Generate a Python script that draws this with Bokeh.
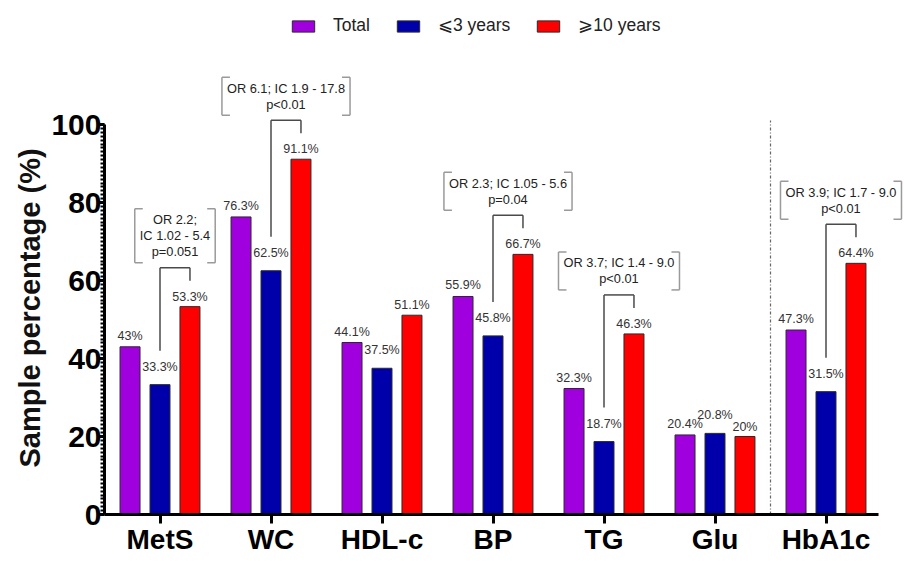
from bokeh.plotting import figure
from bokeh.models import (ColumnDataSource, Range1d, FixedTicker, SingleIntervalTicker,
                          Legend, LegendItem, Title)
from bokeh.transform import dodge
from bokeh.embed import file_html
from bokeh.resources import INLINE
from bokeh.core.properties import value

# ---------------- data ----------------
categories = ["MetS", "WC", "HDL-c", "BP", "TG", "Glu", "HbA1c"]
total = [43, 76.3, 44.1, 55.9, 32.3, 20.4, 47.3]
le3 = [33.3, 62.5, 37.5, 45.8, 18.7, 20.8, 31.5]
ge10 = [53.3, 91.1, 51.1, 66.7, 46.3, 20, 64.4]
series_names = ["Total", "\u2a7d3 years", "\u2a7e10 years"]
y_ticks = [0, 20, 40, 60, 80, 100]
y_label = "Sample percentage (%)"

ann_groups = ["MetS", "WC", "BP", "TG", "HbA1c"]
ann_texts = [
    ["OR 2.2;", "IC 1.02 - 5.4", "p=0.051"],
    ["OR 6.1; IC 1.9 - 17.8", "p<0.01"],
    ["OR 2.3; IC 1.05 - 5.6", "p=0.04"],
    ["OR 3.7; IC 1.4 - 9.0", "p<0.01"],
    ["OR 3.9; IC 1.7 - 9.0", "p<0.01"],
]
separator_before = "HbA1c"

# ---------------- style ----------------
FONT = "Liberation Sans"
COLORS = ["#A100DE", "#0000AA", "#FF0000"]
OFFSETS = [-0.27, 0.0, 0.27]
LABEL_LIFT = [11, 18, 10]   # px above bar top, per series
BAR_W = 0.18
FIG_W, FIG_H = 904, 561
BORDER_L, BORDER_B, BORDER_T = 104, 47, 0
PX_X = 111.0        # px per category
PX_Y = 3.9          # px per percent
X0 = -0.5
X1 = X0 + (FIG_W - BORDER_L) / PX_X
FRAME_H = FIG_H - BORDER_B - BORDER_T
Y1 = FRAME_H / PX_Y

p = figure(width=FIG_W, height=FIG_H, output_backend="svg", toolbar_location=None,
           x_range=Range1d(X0, X1), y_range=Range1d(0, Y1),
           min_border_left=BORDER_L, min_border_right=0, min_border_top=BORDER_T,
           min_border_bottom=BORDER_B)
p.outline_line_color = None
p.grid.visible = False
p.background_fill_color = "white"
p.border_fill_color = "white"

idx = list(range(len(categories)))
src = ColumnDataSource(dict(
    x=idx, total=total, le3=le3, ge10=ge10,
    total_lbl=[f"{v:g}%" for v in total],
    le3_lbl=[f"{v:g}%" for v in le3],
    ge10_lbl=[f"{v:g}%" for v in ge10],
))

renderers = []
for key, col, off, lift in zip(["total", "le3", "ge10"], COLORS, OFFSETS, LABEL_LIFT):
    r = p.vbar(x=dodge("x", off, range=p.x_range), top=key, width=BAR_W, source=src,
               fill_color=col, line_color="#2a2a2a", line_width=1)
    renderers.append(r)
    p.text(x=dodge("x", off, range=p.x_range), y=key, text=key + "_lbl", source=src,
           text_align="center", text_baseline="middle", y_offset=-lift,
           text_font=value(FONT), text_font_size="12.5px", text_color="#333333")

# ---------------- annotation brackets ----------------
CW = {c: 556 for c in "0123456789"}
CW.update({".": 278, " ": 278, ";": 278, "-": 333, "<": 584, "=": 584,
           "O": 778, "R": 722, "I": 278, "C": 722, "p": 556})
ANN_FS = 12.8


def text_px(s):
    return sum(CW.get(c, 556) for c in s) * ANN_FS / 1000.0


leg = dict(x0=[], y0=[], x1=[], y1=[])
box = dict(x0=[], y0=[], x1=[], y1=[])
tx, ty, tt = [], [], []
LINE_H = 16
for g, lines in zip(ann_groups, ann_texts):
    i = categories.index(g)
    xl, xr = i + OFFSETS[1], i + OFFSETS[2]
    top = ge10[i] + 39 / PX_Y
    lb = le3[i] + 34 / PX_Y
    rb = ge10[i] + 26 / PX_Y
    for a, b, c, d in [(xl, lb, xl, top), (xl, top, xr, top), (xr, top, xr, rb)]:
        leg["x0"].append(a); leg["y0"].append(b); leg["x1"].append(c); leg["y1"].append(d)
    cx = (xl + xr) / 2
    n = len(lines)
    half = (max(text_px(s) for s in lines) + 10) / 2 / PX_X
    bb = top + 5 / PX_Y
    bt = bb + (n * LINE_H + 6) / PX_Y
    bx0, bx1 = cx - half, cx + half
    corner = 8 / PX_X
    for a, b, c, d in [(bx0, bb, bx0, bt), (bx0, bt, bx0 + corner, bt), (bx0, bb, bx0 + corner, bb),
                       (bx1, bb, bx1, bt), (bx1 - corner, bt, bx1, bt), (bx1 - corner, bb, bx1, bb)]:
        box["x0"].append(a); box["y0"].append(b); box["x1"].append(c); box["y1"].append(d)
    for k, s in enumerate(lines):
        tx.append(cx)
        ty.append(bb + (3 + (n - k - 0.5) * LINE_H) / PX_Y)
        tt.append(s)

p.segment(x0="x0", y0="y0", x1="x1", y1="y1", source=ColumnDataSource(leg),
          line_color="#4a4a4a", line_width=1.5)
p.segment(x0="x0", y0="y0", x1="x1", y1="y1", source=ColumnDataSource(box),
          line_color="#9a9a9a", line_width=1.5)
p.text(x=tx, y=ty, text=tt, text_align="center", text_baseline="middle",
       text_font=value(FONT), text_font_size=f"{ANN_FS}px", text_color="#222222")

# separator (dash-dot)
sx = categories.index(separator_before) - 0.5
p.segment(x0=[sx], y0=[0], x1=[sx], y1=[y_ticks[-1] + 1], line_color="#666666",
          line_width=1.2, line_dash="3 2 1 2")

# ---------------- axes ----------------
xa = p.xaxis[0]
xa.ticker = FixedTicker(ticks=idx)
xa.major_label_overrides = {i: c for i, c in enumerate(categories)}
xa.bounds = (X0, len(categories) - 0.53)
xa.axis_line_width = 3
xa.axis_line_color = "black"
xa.major_tick_line_width = 3
xa.major_tick_in = 0
xa.major_tick_out = 9
xa.minor_tick_line_color = None
xa.major_label_standoff = 0
xa.major_label_text_font = FONT
xa.major_label_text_font_size = "28px"
xa.major_label_text_font_style = "bold"
xa.major_label_text_color = "black"

ya = p.yaxis[0]
ya.ticker = SingleIntervalTicker(interval=20, num_minor_ticks=20)
ya.bounds = (y_ticks[0], y_ticks[-1])
ya.axis_line_width = 3
ya.axis_line_color = "black"
ya.major_tick_line_width = 3
ya.major_tick_in = 0
ya.major_tick_out = 6
ya.minor_tick_line_width = 2
ya.minor_tick_in = 0
ya.minor_tick_out = 4
ya.major_label_standoff = -3
ya.major_label_text_font = FONT
ya.major_label_text_font_size = "30px"
ya.major_label_text_font_style = "bold"
ya.major_label_text_color = "black"

# y-axis title as a left-side title, aligned along the 0..100 span
ytitle = Title(text=y_label, align="left", offset=47, vertical_align="bottom",
               text_font=FONT, text_font_size="29px", text_font_style="bold",
               text_color="#111111", standoff=6)
p.add_layout(ytitle, "left")

# ---------------- legend ----------------
LEG_H = 14
frame_bottom = FIG_H - BORDER_B
legend = Legend(items=[LegendItem(label=n, renderers=[r]) for n, r in zip(series_names, renderers)],
                orientation="horizontal", location=(289 - BORDER_L, frame_bottom - 22 - LEG_H),
                glyph_width=28, glyph_height=LEG_H, label_height=LEG_H, label_standoff=16,
                spacing=24, padding=0, margin=0, border_line_color=None,
                background_fill_alpha=0, label_text_font=FONT,
                label_text_font_size="17.5px", label_text_color="#222222",
                label_text_baseline="middle")
p.add_layout(legend, "center")

open("out.html", "w").write(file_html(p, INLINE))
